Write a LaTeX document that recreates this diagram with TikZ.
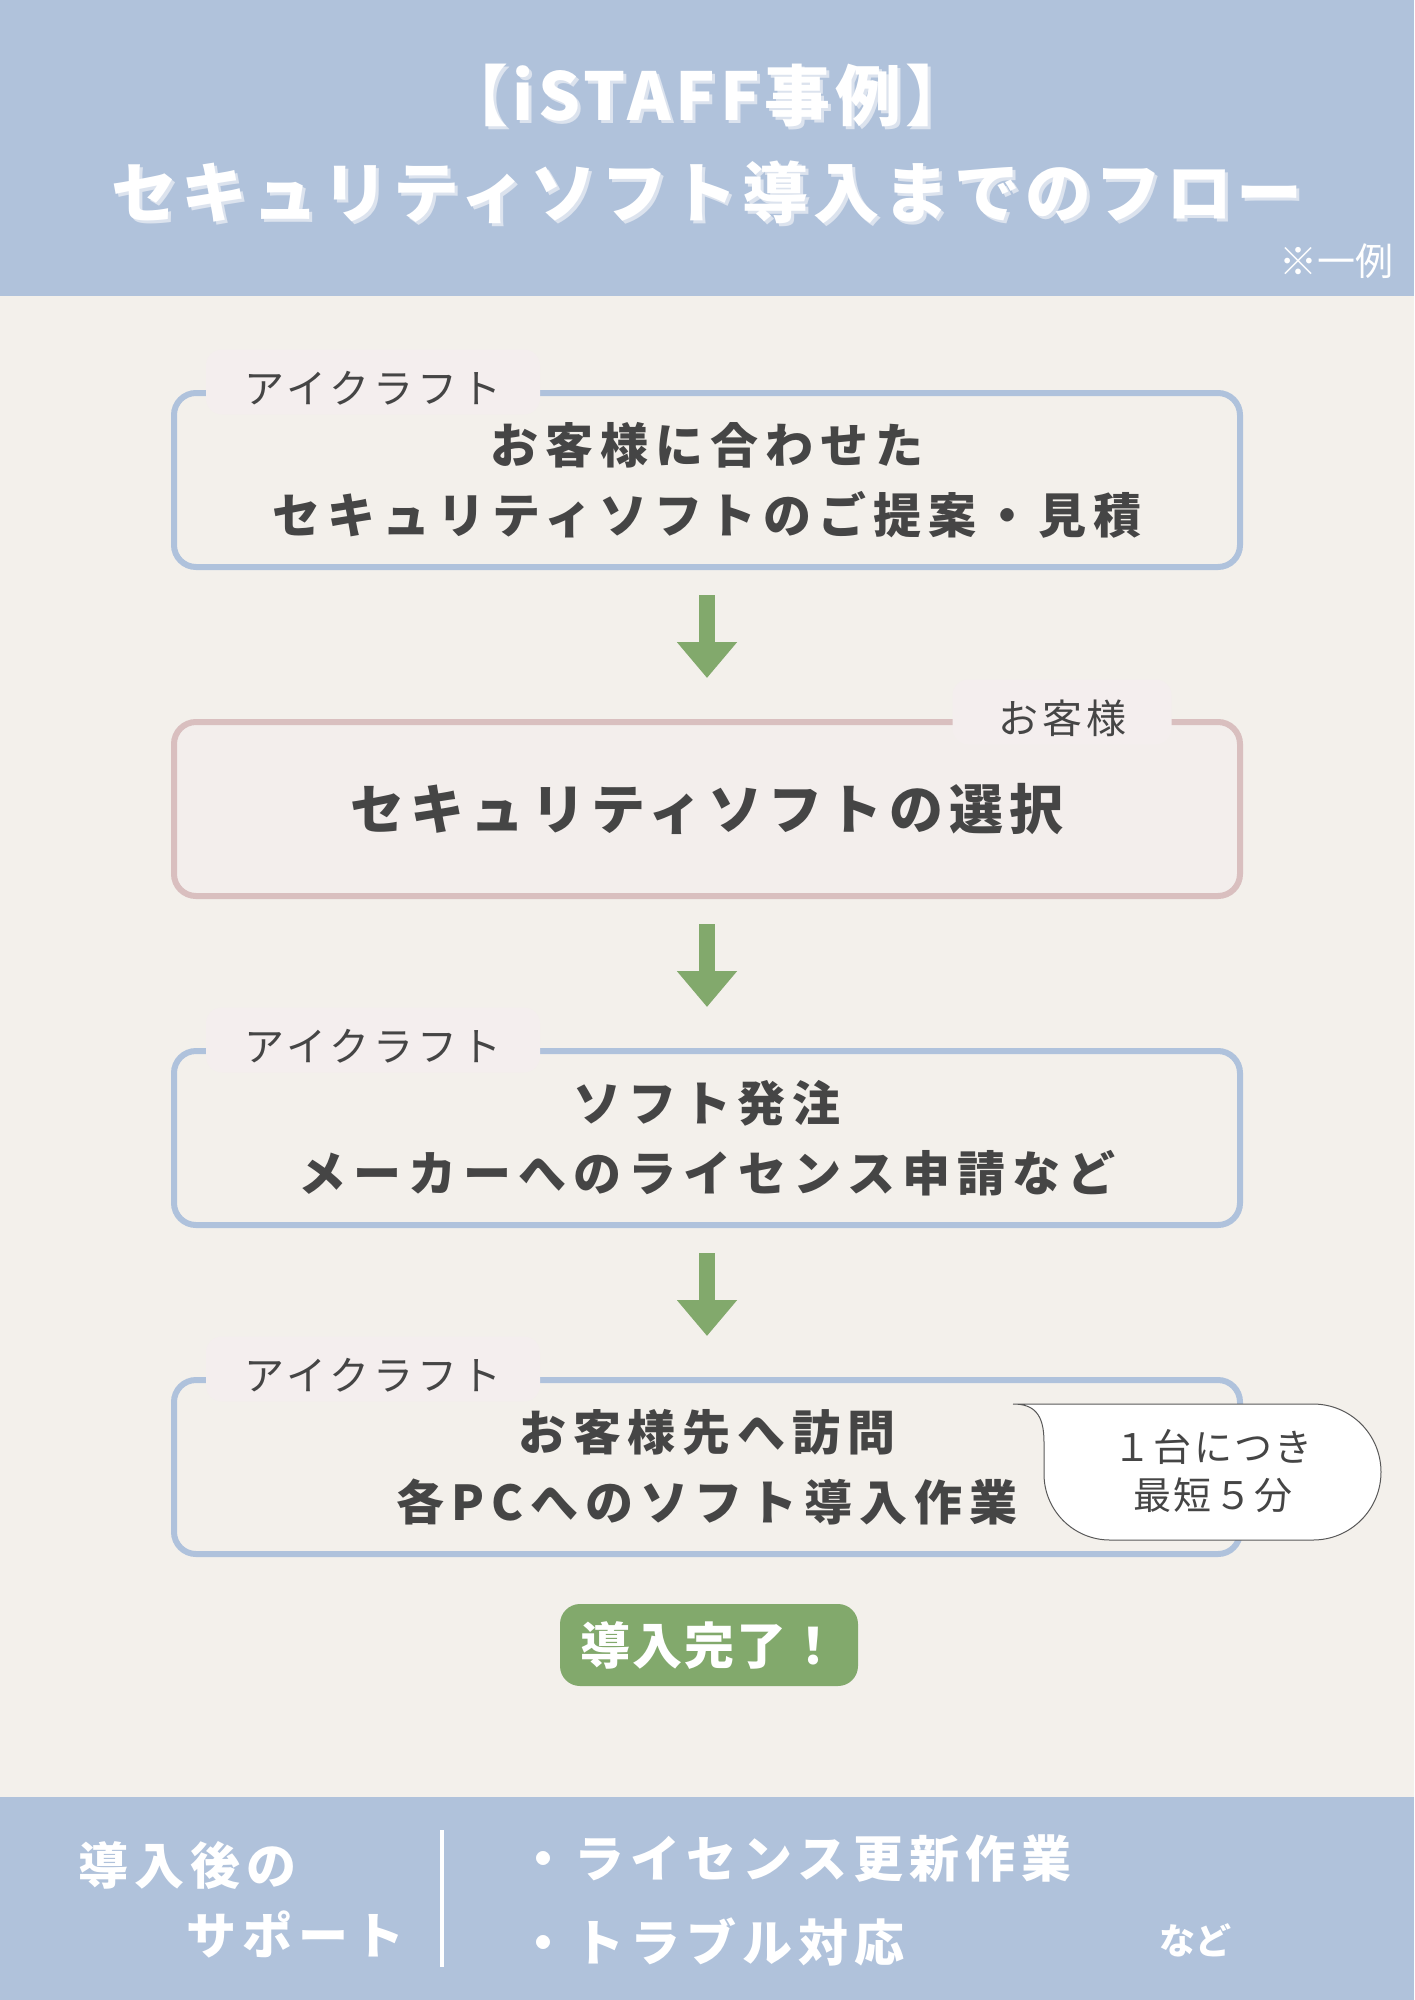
\documentclass[tikz,border=0pt]{standalone}
\usepackage{fontspec}
\setmainfont{Noto Sans CJK JP}
\usetikzlibrary{arrows.meta,calc}
\definecolor{bandblue}{HTML}{B0C2DB}
\definecolor{paper}{HTML}{F3F0EB}
\definecolor{lineblue}{HTML}{AFC2DC}
\definecolor{linepink}{HTML}{D9BFBF}
\definecolor{tagfill}{HTML}{F4EEEE}
\definecolor{pickfill}{HTML}{F3EEEC}
\definecolor{leafgreen}{HTML}{82A96C}
\definecolor{inkgray}{HTML}{454545}
\definecolor{shadowblue}{HTML}{DCE3EE}
\newcommand{\track}[1]{\addfontfeatures{LetterSpace=#1}}

\begin{document}
\begin{tikzpicture}[
    x=1pt, y=-1pt,
    >=Stealth,
    flowbox/.style={draw=lineblue, line width=6pt, rounded corners=22pt, fill=paper,
      minimum width=1066pt, minimum height=174pt, inner sep=0pt, align=center,
      text=inkgray, font=\fontsize{48}{70}\selectfont\bfseries\track{14.5}},
    pickbox/.style={flowbox, draw=linepink, fill=pickfill,
      font=\fontsize{54}{70}\selectfont\bfseries\track{11.5}},
    tagbox/.style={fill=tagfill, rounded corners=16pt, minimum width=334pt,
      minimum height=65pt, inner sep=0pt, text=inkgray,
      text height=46pt, text depth=4pt,
      font=\fontsize{40}{48}\selectfont\track{10}},
    flowarrow/.style={-{Triangle[length=36pt, width=58pt]}, line width=16pt, leafgreen},
    callout/.style={draw=inkgray!90, line width=1pt, fill=white},
    notetxt/.style={align=center, text=inkgray, inner sep=0pt,
      font=\fontsize{38}{48}\selectfont\track{6}},
    donebox/.style={fill=leafgreen, rounded corners=20pt, minimum width=298pt,
      minimum height=82pt, inner sep=0pt, text=white,
      font=\fontsize{50}{60}\selectfont\bfseries\track{4}},
    headline/.style={inner sep=0pt, font=\fontsize{66}{80}\selectfont\bfseries\track{7}},
    bandtxt/.style={text=white, inner sep=0pt, anchor=west,
      font=\fontsize{50}{60}\selectfont\bfseries\track{12}}
  ]
  \useasboundingbox (0,0) rectangle (1414,2000);
  \fill[paper] (0,0) rectangle (1414,2000);

  % Header
  \fill[bandblue] (0,0) rectangle (1414,296);
  \foreach \d/\c in {3/shadowblue, 0/white} {
    \node[headline, text=\c] (title-a) at (707+\d,96+\d) {【iSTAFF事例】};
    \node[headline, text=\c] (title-b) at (707+\d,192+\d) {セキュリティソフト導入までのフロー};
  }
  \node[anchor=east, inner sep=0pt, text=white, font=\fontsize{38}{40}\selectfont] (sample) at (1394,261) {※一例};

  % Steps
  \node[flowbox] (offer) at (707,480) {お客様に合わせた\\セキュリティソフトのご提案・見積};
  \node[pickbox] (pick) at (707,809) {セキュリティソフトの選択};
  \node[flowbox] (order) at (707,1138) {ソフト発注\\メーカーへのライセンス申請など};
  \node[flowbox] (visit) at (707,1467) {お客様先へ訪問\\各PCへのソフト導入作業};

  % Who does it
  \node[tagbox] (offer-who) at ($(offer.north west)+(202,-8)$) {アイクラフト};
  \node[tagbox, minimum width=219pt] (pick-who) at ($(pick.north east)+(-181,-7)$) {お客様};
  \node[tagbox] (order-who) at ($(order.north west)+(202,-8)$) {アイクラフト};
  \node[tagbox] (visit-who) at ($(visit.north west)+(202,-8)$) {アイクラフト};

  % Arrows
  \foreach \a/\b in {offer/pick, pick/order, order/visit}
    \draw[flowarrow] ([yshift=-25pt]\a.south) -- ([yshift=41pt]\b.north);

  % Time note
  \draw[callout] (1013,1404) -- (1313,1404) arc[start angle=-90, end angle=90, radius=68]
    -- (1110,1540) arc[start angle=90, end angle=180, radius=66]
    -- (1044,1442) .. controls (1044,1414) and (1034,1404) .. (1013,1404) -- cycle;
  \node[notetxt] (note) at (1213,1471) {１台につき\\最短５分};

  \node[donebox] (done) at (709,1645) {導入完了！};

  % Footer
  \fill[bandblue] (0,1797) rectangle (1414,2000);
  \node[bandtxt] (after) at (78,1865) {導入後の};
  \node[bandtxt] (support) at (186,1934) {サポート};
  \draw[white, line width=4pt] (442,1830) -- (442,1967);
  \node[bandtxt] (renew) at (518,1858) {・ライセンス更新作業};
  \node[bandtxt] (trouble) at (518,1942) {・トラブル対応};
  \node[bandtxt, anchor=center, font=\fontsize{36}{40}\selectfont\bfseries] (etc) at (1195,1940) {など};
\end{tikzpicture}
\end{document}
